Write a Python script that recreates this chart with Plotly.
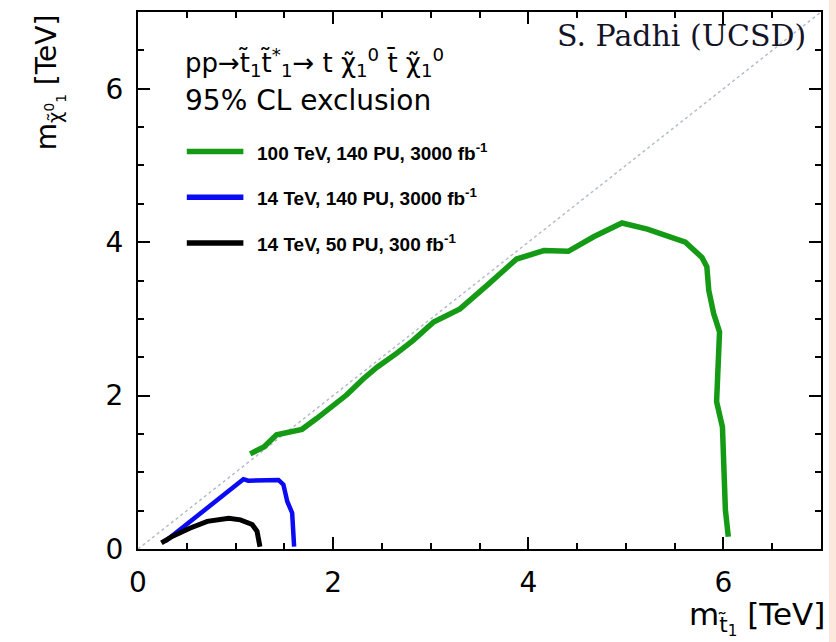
import plotly.graph_objects as go

# ---------------- data ----------------
green_x = [1.15, 1.29, 1.42, 1.49, 1.68, 1.83, 1.97, 2.14, 2.31, 2.45, 2.65, 2.82, 3.03, 3.30, 3.58,
           3.88, 4.16, 4.41, 4.67, 4.96, 5.22, 5.46, 5.61, 5.78, 5.83, 5.85, 5.90, 5.96, 5.94, 5.93,
           5.99, 6.00, 6.02, 6.05]
green_y = [1.24, 1.33, 1.49, 1.51, 1.56, 1.70, 1.83, 2.01, 2.22, 2.37, 2.55, 2.72, 2.96, 3.13, 3.44,
           3.78, 3.89, 3.88, 4.07, 4.25, 4.17, 4.07, 4.00, 3.80, 3.68, 3.37, 3.07, 2.83, 2.33, 1.92,
           1.59, 1.03, 0.51, 0.16]

blue_x = [0.28, 1.08, 1.13, 1.44, 1.49, 1.53, 1.58, 1.59, 1.60]
blue_y = [0.10, 0.91, 0.89, 0.90, 0.84, 0.62, 0.47, 0.29, 0.03]

black_x = [0.24, 0.36, 0.53, 0.71, 0.93, 1.05, 1.17, 1.22, 1.25]
black_y = [0.08, 0.17, 0.27, 0.36, 0.40, 0.38, 0.32, 0.23, 0.03]

diag_x = [0, 7]
diag_y = [0, 7]

series_names = ["100 TeV, 140 PU, 3000 fb<sup>-1</sup>",
                "14 TeV, 140 PU, 3000 fb<sup>-1</sup>",
                "14 TeV, 50 PU, 300 fb<sup>-1</sup>"]
series_colors = ["#159a15", "#0a0af5", "#000000"]

x_ticks = [0, 2, 4, 6]
y_ticks = [0, 2, 4, 6]
axis_range = [0, 7]

SANS = "DejaVu Sans, Liberation Sans, Arial"

fig = go.Figure()

fig.add_trace(go.Scatter(x=diag_x, y=diag_y, mode="lines",
                         line=dict(color="#b4bccb", width=1.5, dash="dot"),
                         showlegend=False, hoverinfo="skip"))

for xs, ys, name, col, w in [(green_x, green_y, series_names[0], series_colors[0], 5.5),
                             (blue_x, blue_y, series_names[1], series_colors[1], 4.5),
                             (black_x, black_y, series_names[2], series_colors[2], 5)]:
    fig.add_trace(go.Scatter(x=xs, y=ys, mode="lines", name=name,
                             line=dict(color=col, width=w), showlegend=False))

axis_common = dict(
    range=axis_range, showgrid=False, zeroline=False,
    showline=True, linecolor="black", linewidth=2, mirror="ticks",
    ticks="inside", ticklen=12, tickwidth=2, tickcolor="black",
    tickfont=dict(family=SANS, size=28, color="black"),
    minor=dict(dtick=0.5, ticks="inside", ticklen=6, tickwidth=1.5, tickcolor="black"),
    ticklabelstandoff=7,
)

fig.update_xaxes(tickvals=x_ticks, **axis_common)
fig.update_yaxes(tickvals=y_ticks, **axis_common)

annotations = [
    dict(x=0.46, y=6.34, xref="x", yref="y", xanchor="left", yanchor="middle",
         text="pp→t\u0303<sub>1</sub>t\u0303<sup>*</sup><sub>1</sub>→ t χ\u0303<sub>1</sub><sup>0</sup> t\u0304 χ\u0303<sub>1</sub><sup>0</sup>",
         showarrow=False, font=dict(family=SANS, size=26, color="black")),
    dict(x=0.46, y=5.84, xref="x", yref="y", xanchor="left", yanchor="middle",
         text="95% CL exclusion", showarrow=False,
         font=dict(family=SANS, size=28, color="black")),
    dict(x=6.87, y=6.69, xref="x", yref="y", xanchor="right", yanchor="middle",
         text="S. Padhi (UCSD)", showarrow=False,
         font=dict(family="DejaVu Serif, Liberation Serif, serif", size=30, color="#141428")),
    dict(x=-0.13, y=1.0, xref="paper", yref="paper", xanchor="center", yanchor="top",
         textangle=-90, text="m<sub>χ\u0303<sup>0</sup><sub>1</sub></sub> [TeV]", showarrow=False,
         font=dict(family=SANS, size=28, color="black")),
    dict(x=1.009, y=-0.084, xref="paper", yref="paper", xanchor="right", yanchor="top",
         text="m<sub>t\u0303<sub>1</sub></sub> [TeV]", showarrow=False,
         font=dict(family=SANS, size=31, color="black")),
]

shapes = []
legend_y = [5.18, 4.585, 3.99]
for name, col, ly in zip(series_names, series_colors, legend_y):
    shapes.append(dict(type="line", xref="x", yref="y", x0=0.50, x1=1.08, y0=ly, y1=ly,
                       line=dict(color=col, width=5.5)))
    annotations.append(dict(x=1.20, y=ly, xref="x", yref="y", xanchor="left", yanchor="middle",
                            text="<b>" + name + "</b>", showarrow=False,
                            font=dict(family="Liberation Sans Narrow, Liberation Sans, Arial",
                                      size=19, color="black")))

# peach slide margin on the right
shapes.append(dict(type="rect", xref="paper", yref="paper", x0=1.0117, x1=1.04, y0=-0.2, y1=1.05,
                   fillcolor="#fce8dc", line=dict(width=0), layer="below"))

fig.update_layout(
    width=836, height=642,
    margin=dict(l=138, r=15, t=10, b=93),
    plot_bgcolor="white", paper_bgcolor="white",
    annotations=annotations, shapes=shapes,
    showlegend=False,
)

fig.write_html("out.html")
